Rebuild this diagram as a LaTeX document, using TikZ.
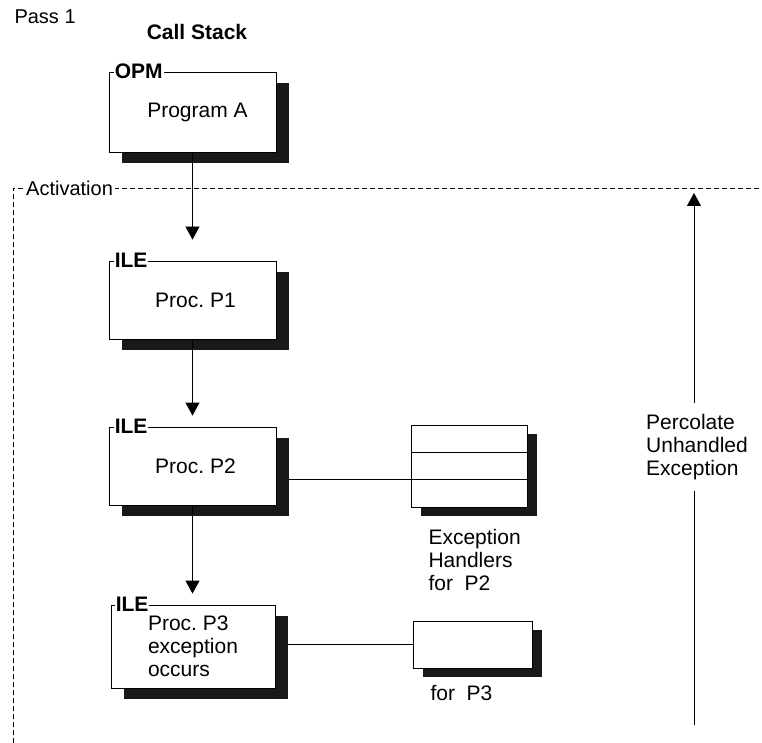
\documentclass[tikz,border=0pt]{standalone}
\usepackage{fontspec}
\setmainfont{Liberation Sans}
\usetikzlibrary{arrows.meta,shadows,calc,backgrounds}
\frenchspacing
\tikzset{
  txt/.style={font=\fontsize{21}{23}\selectfont},
  stackbox/.style={txt, draw, line width=0.8pt, fill=white, minimum width=167pt, minimum height=78pt,
    drop shadow={shadow xshift=13pt, shadow yshift=-11pt, opacity=1, fill=black!90}},
  handbox/.style={draw, line width=0.8pt, fill=white,
    drop shadow={shadow xshift=10pt, shadow yshift=-9pt, opacity=1, fill=black!90}},
  tag/.style={font=\fontsize{21}{23}\selectfont\bfseries, fill=white, inner sep=1pt, anchor=west},
  flow/.style={line width=0.8pt, -{Triangle[width=14pt,length=13pt]}},
  conn/.style={line width=0.8pt}
}
\begin{document}
\begin{tikzpicture}[x=1pt,y=-1pt]
\useasboundingbox (0,0) rectangle (762,743);
\node[txt, anchor=west, font=\fontsize{20}{23}\selectfont] (pass) at (11,17) {Pass 1};
\node[tag, fill=none, anchor=center] (stack) at (197,32) {Call Stack};

% activation boundary
\draw[line width=0.9pt, dash pattern=on 5pt off 3pt] (13,743) -- (13,188) -- (762,188);
\node[tag, font=\fontsize{20}{23}\selectfont, inner sep=2pt] (act) at (24,188) {Activation};

\node[stackbox, minimum height=80pt] (opm) at (192.5,112) {\hspace{10pt}Program A};
\node[tag] (opmtag) at ([xshift=5pt]opm.north west) {OPM};
\node[stackbox] (p1) at (192.5,300) {\hspace{6pt}Proc. P1};
\node[tag] (p1tag) at ([xshift=5pt]p1.north west) {ILE};
\node[stackbox] (p2) at (192.5,466) {\hspace{6pt}Proc. P2};
\node[tag] (p2tag) at ([xshift=5pt]p2.north west) {ILE};
\node[stackbox, minimum height=83pt, minimum width=164pt, align=left] (p3) at (193,646.5) {Proc. P3\\exception\\occurs};
\node[tag] (p3tag) at ([xshift=4pt]p3.north west) {ILE};

\draw[flow, shorten >=21pt] (opm.south) -- (opm.south |- p1.north);
\draw[flow, shorten >=11pt] (p1.south) -- (p1.south |- p2.north);
\draw[flow, shorten >=11pt] (p2.south) -- (p2.south |- p3.north);

% exception handlers
\node[handbox, minimum width=116pt, minimum height=82pt] (hp2) at (469,466) {};
\coordinate (hp2a) at ($(hp2.north west)!1/3!(hp2.south west)$);
\coordinate (hp2b) at ($(hp2.north west)!2/3!(hp2.south west)$);
\draw[conn] (hp2a) -- ($(hp2.north east)!1/3!(hp2.south east)$);
\draw[conn] (hp2b) -- ($(hp2.north east)!2/3!(hp2.south east)$);
\node[txt, anchor=west, align=left] (hp2txt) at (425,560) {Exception\\Handlers\\for\ \ P2};
\node[handbox, minimum width=119pt, minimum height=47pt] (hp3) at (472.5,644.5) {};
\node[txt, anchor=west] (hp3txt) at (427,693) {for\ \ P3};

\begin{scope}[on background layer]
\draw[conn] (p2.east |- hp2b) -- (hp2b);
\draw[conn] (p3.east |- hp3.west) -- (hp3.west);
\end{scope}

% percolate
\node[txt, align=left, inner sep=11pt] (perc) at (697,447) {Percolate\\Unhandled\\Exception};
\coordinate (percbot) at (694,725);
\coordinate (perctop) at (694,193);
\draw[conn] (percbot) -- (percbot |- perc.south);
\draw[flow] (percbot |- perc.north) -- (perctop);
\end{tikzpicture}
\end{document}
